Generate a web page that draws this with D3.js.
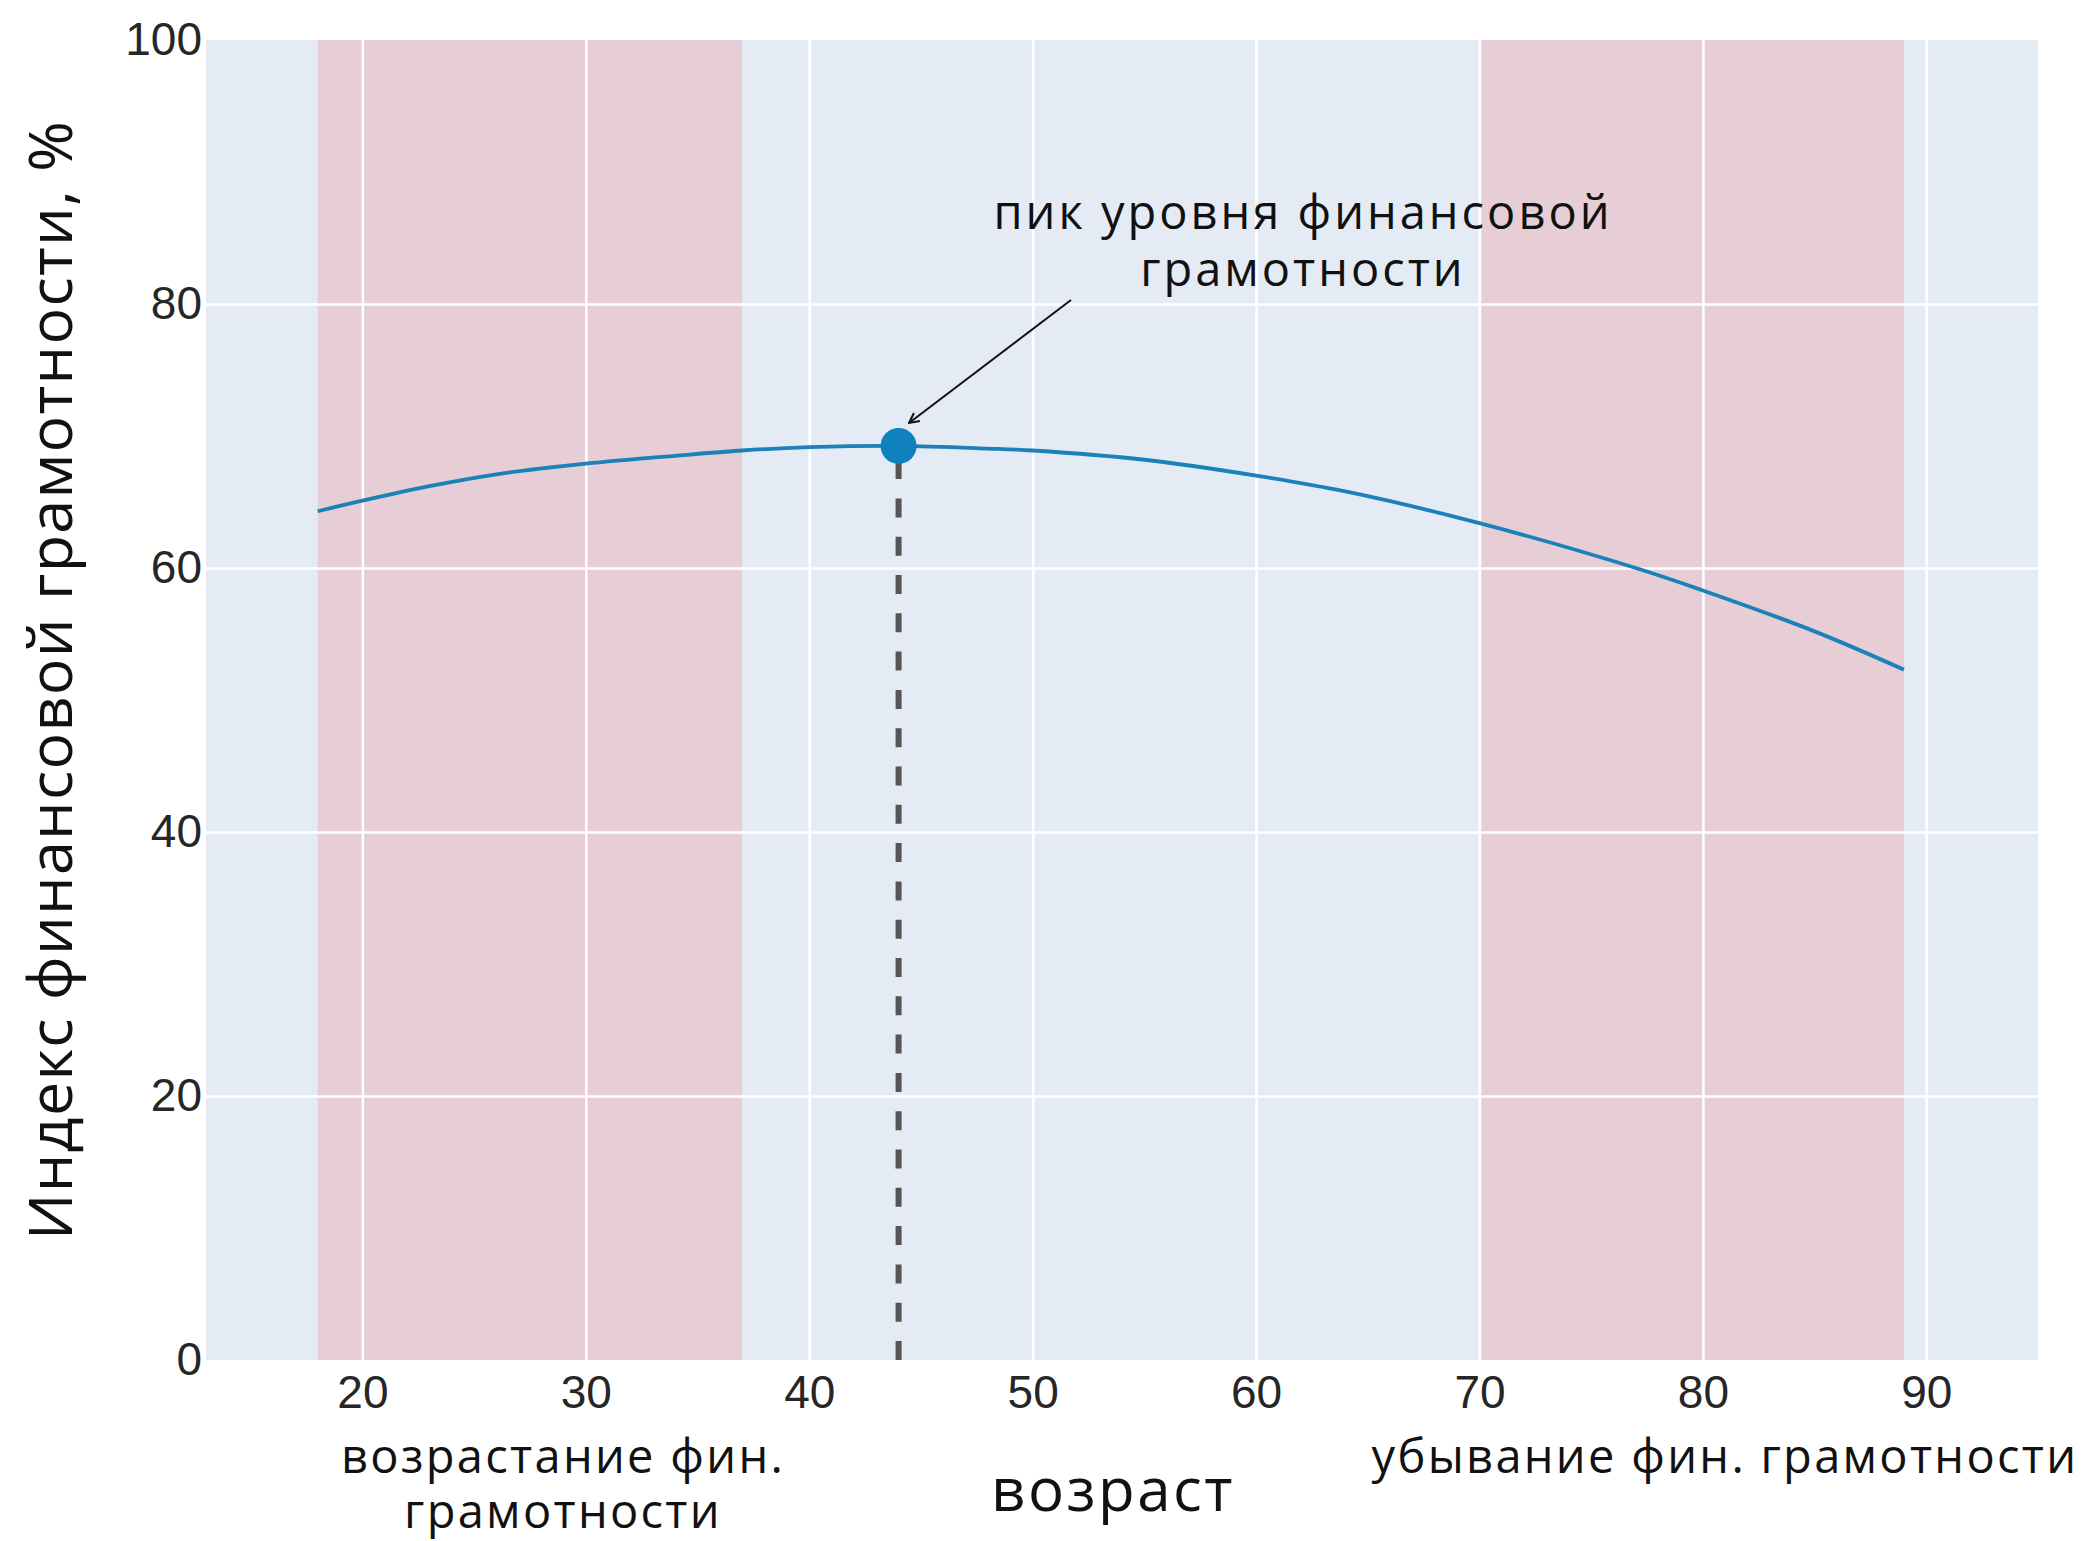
<!DOCTYPE html>
<html>
<head>
<meta charset="utf-8">
<script src="https://cdn.jsdelivr.net/npm/d3@7"></script>
<style>
  body { margin: 0; background: #fff; }
  .tick text { font-family: "Liberation Sans", Arial, sans-serif; fill: #262626; }
  .lbl { font-family: "Open Sans", sans-serif; fill: #111; }
</style>
</head>
<body>
<div id="chart"></div>
<script>
let width = 2087;
let height = 1541;

// age -> financial literacy index, %
const ages = [18, 20, 23, 26, 30, 34, 37, 40, 44, 48, 50, 55, 60, 64, 70, 77, 80, 85, 89];
const literacy = [64.3, 65.1, 66.2, 67.1, 67.9, 68.5, 68.9, 69.15, 69.25, 69.05, 68.9, 68.2, 67.0, 65.8, 63.4, 60.0, 58.3, 55.2, 52.3];

const peakAge = 44;
const peakValue = 69.25;

// shaded ranges (growth / decline)
const bandStarts = [18, 70];
const bandEnds = [37, 89];

const xTicks = [20, 30, 40, 50, 60, 70, 80, 90];
const yTicks = [0, 20, 40, 60, 80, 100];

const margin = {top: 40, right: 49, bottom: 181, left: 206};

let svg = d3.select("#chart")
    .append("svg")
    .attr("width", width)
    .attr("height", height);

let x = d3.scaleLinear().domain([13, 95]).range([margin.left, width - margin.right]);
let y = d3.scaleLinear().domain([0, 100]).range([height - margin.bottom, margin.top]);

// plot background
svg.append("rect")
    .attr("x", x.range()[0])
    .attr("y", y.range()[1])
    .attr("width", x.range()[1] - x.range()[0])
    .attr("height", y.range()[0] - y.range()[1])
    .attr("fill", "#e5ebf5");

svg.append("g")
    .selectAll("rect")
    .data(bandStarts)
    .enter()
    .append("rect")
        .attr("x", d => x(d))
        .attr("y", y(100))
        .attr("width", (d, i) => x(bandEnds[i]) - x(d))
        .attr("height", y(0) - y(100))
        .attr("fill", "#e6cdd6");

// grid lines
let gridX = svg.append("g")
    .attr("transform", `translate(0,${y(0)})`)
    .call(d3.axisBottom(x).tickValues(xTicks).tickSize(-(y(0) - y(100))).tickFormat(""));
let gridY = svg.append("g")
    .attr("transform", `translate(${x.range()[0]},0)`)
    .call(d3.axisLeft(y).tickValues([20, 40, 60, 80]).tickSize(-(x.range()[1] - x.range()[0])).tickFormat(""));
[gridX, gridY].forEach(g => {
    g.select(".domain").remove();
    g.selectAll("line").attr("stroke", "#fff").attr("stroke-width", 2.6);
});

// tick labels
let xAxis = svg.append("g")
    .attr("transform", `translate(0,${y(0)})`)
    .call(d3.axisBottom(x).tickValues(xTicks).tickSize(0).tickPadding(15));
let yAxis = svg.append("g")
    .attr("transform", `translate(${x.range()[0]},0)`)
    .call(d3.axisLeft(y).tickValues(yTicks).tickSize(0).tickPadding(4));
[xAxis, yAxis].forEach(g => {
    g.select(".domain").remove();
    g.selectAll("text").style("font-size", "46px");
});

// curve
let line = d3.line()
    .x((d, i) => x(ages[i]))
    .y(d => y(d))
    .curve(d3.curveCatmullRom.alpha(0.5));

svg.append("path")
    .datum(literacy)
    .attr("d", line)
    .attr("fill", "none")
    .attr("stroke", "#1a82b8")
    .attr("stroke-width", 3.8);

// dashed drop line from the peak
svg.append("line")
    .attr("x1", x(peakAge)).attr("x2", x(peakAge))
    .attr("y1", y(0)).attr("y2", y(peakValue))
    .attr("stroke", "#555")
    .attr("stroke-width", 6)
    .attr("stroke-dasharray", "19,19.3");

svg.append("circle")
    .attr("cx", x(peakAge))
    .attr("cy", y(peakValue))
    .attr("r", 18)
    .attr("fill", "#0f82be");

// annotation arrow
svg.append("defs").append("marker")
    .attr("id", "head")
    .attr("viewBox", "0 0 12 12")
    .attr("refX", 11).attr("refY", 6)
    .attr("markerWidth", 12).attr("markerHeight", 12)
    .attr("markerUnits", "userSpaceOnUse")
    .attr("orient", "auto")
    .append("path")
        .attr("d", "M1,1 L11,6 L1,11")
        .attr("fill", "none")
        .attr("stroke", "#111")
        .attr("stroke-width", 2);

svg.append("line")
    .attr("x1", 1071).attr("y1", 300)
    .attr("x2", 909).attr("y2", 423)
    .attr("stroke", "#111")
    .attr("stroke-width", 2)
    .attr("marker-end", "url(#head)");

let note = svg.append("text")
    .attr("class", "lbl")
    .attr("text-anchor", "middle")
    .style("font-size", "47px")
    .style("letter-spacing", "3px");
note.append("tspan").attr("x", 1303).attr("y", 229).text("пик уровня финансовой");
note.append("tspan").attr("x", 1303).attr("y", 286).text("грамотности");

// axis titles and range labels
svg.append("text")
    .attr("class", "lbl")
    .attr("transform", "translate(72,680) rotate(-90)")
    .attr("text-anchor", "middle")
    .style("font-size", "61px")
    .style("letter-spacing", "1.3px")
    .text("Индекс финансовой грамотности, %");

svg.append("text")
    .attr("class", "lbl")
    .attr("x", 1113).attr("y", 1511)
    .attr("text-anchor", "middle")
    .style("font-size", "60px")
    .style("letter-spacing", "2.5px")
    .text("возраст");

let leftNote = svg.append("text")
    .attr("class", "lbl")
    .attr("text-anchor", "middle")
    .style("font-size", "47px")
    .style("letter-spacing", "2.3px");
leftNote.append("tspan").attr("x", 563).attr("y", 1473).text("возрастание фин.");
leftNote.append("tspan").attr("x", 563).attr("y", 1528).text("грамотности");

svg.append("text")
    .attr("class", "lbl")
    .attr("x", 1725).attr("y", 1473)
    .attr("text-anchor", "middle")
    .style("font-size", "47px")
    .style("letter-spacing", "2.3px")
    .text("убывание фин. грамотности");
</script>
</body>
</html>
